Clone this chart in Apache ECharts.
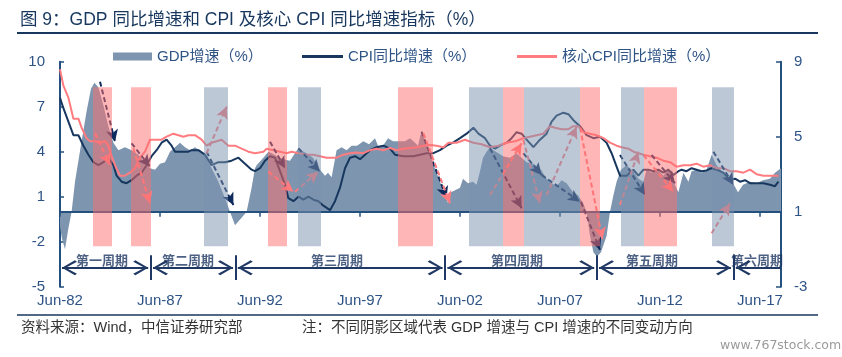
<!DOCTYPE html>
<html><head><meta charset="utf-8">
<script src="https://cdn.jsdelivr.net/npm/echarts@6/dist/echarts.min.js"></script>
<style>html,body{margin:0;padding:0;background:#fff}#c{width:842px;height:357px}</style>
</head><body><div id="c"></div>
<script>
// ---- data (x = decimal year, Jun-82 = 1982.5) ----
const gdpYears = [1982.5,1982.6,1982.75,1982.92,1983.08,1983.25,1983.58,1983.83,1984.05,1984.22,
1984.42,1984.67,1984.92,1985.17,1985.42,1985.75,1986.08,1986.42,1986.67,1987.0,
1987.25,1987.5,1987.75,1988.0,1988.25,1988.5,1988.75,1989.0,1989.25,1989.58,
1989.83,1990.08,1990.42,1990.75,1991.0,1991.25,1991.58,1991.83,1992.08,1992.25,
1992.33,1992.67,1992.92,1993.1,1993.35,1993.65,1994.0,1994.4,1994.83,1995.15,
1995.5,1995.75,1995.9,1996.08,1996.33,1996.58,1996.83,1997.08,1997.35,1997.67,
1997.95,1998.25,1998.4,1998.65,1998.9,1999.15,1999.5,1999.75,2000.0,2000.25,
2000.4,2000.58,2001.0,2001.5,2001.9,2002.05,2002.5,2002.65,2002.9,2003.15,
2003.33,2003.5,2003.65,2003.83,2004.0,2004.17,2004.42,2004.65,2005.0,2005.33,
2005.58,2005.83,2006.17,2006.5,2006.83,2007.08,2007.33,2007.58,2007.83,2008.15,
2008.4,2008.65,2008.83,2009.0,2009.17,2009.35,2009.55,2009.83,2010.0,2010.17,
2010.33,2010.55,2010.83,2011.17,2011.42,2011.67,2011.83,2012.08,2012.33,2012.67,
2012.92,2013.17,2013.42,2013.67,2013.92,2014.08,2014.33,2014.58,2014.83,2015.08,
2015.33,2015.65,2015.9,2016.15,2016.4,2016.65,2017.0,2017.33,2017.65,2018.0,
2018.25,2018.55];
const gdpValues = [-1.0,-1.8,-2.5,-1.1,0.0,2.0,4.7,6.7,8.2,8.6,
8.3,7.1,5.7,4.6,4.1,4.3,4.1,3.8,3.4,2.9,
2.8,3.2,3.3,4.0,4.3,4.6,4.3,4.1,4.3,4.0,
3.6,2.9,2.0,0.9,0.0,-0.9,-0.4,0.0,1.6,2.9,
3.1,3.6,4.0,3.9,3.7,3.5,3.4,4.2,3.9,3.6,
2.8,2.4,2.6,2.3,4.1,4.3,4.1,4.4,4.4,4.7,
4.5,4.9,4.4,4.4,4.9,4.7,4.7,4.7,4.9,4.6,
4.4,5.4,3.8,2.0,0.6,1.3,1.6,2.2,1.9,2.0,
1.8,2.7,3.6,4.0,4.3,4.1,3.9,3.7,3.6,3.9,
3.6,3.3,3.2,2.9,2.2,1.9,1.7,2.1,1.9,1.3,
1.1,0.6,0.0,-1.6,-2.7,-3.0,-2.7,-1.6,0.0,1.1,
2.0,2.8,3.1,2.7,2.2,2.0,2.8,2.6,2.9,2.4,
2.9,2.0,1.3,2.6,2.0,2.7,2.8,2.6,2.8,3.8,
3.1,2.6,2.2,1.9,1.3,1.8,2.0,1.9,2.1,2.2,
2.6,2.9];

const cpiYears = [1982.5,1982.67,1982.92,1983.17,1983.42,1983.67,1983.92,1984.17,1984.42,1984.67,
1984.92,1985.17,1985.33,1985.58,1985.83,1986.08,1986.33,1986.58,1986.83,1987.08,
1987.33,1987.58,1987.83,1988.08,1988.25,1988.58,1988.92,1989.08,1989.42,1989.75,
1990.08,1990.42,1990.75,1991.08,1991.42,1991.75,1992.08,1992.25,1992.5,1992.75,
1993.0,1993.25,1993.5,1993.75,1993.92,1994.17,1994.42,1994.67,1994.92,1995.17,
1995.42,1995.67,1996.0,1996.25,1996.5,1996.75,1997.0,1997.25,1997.5,1997.75,
1998.0,1998.33,1998.67,1999.0,1999.25,1999.67,2000.17,2000.5,2000.83,2001.17,
2001.5,2001.83,2002.15,2002.5,2002.83,2003.17,2003.42,2003.75,2004.0,2004.25,
2004.5,2004.83,2005.08,2005.33,2005.58,2005.83,2006.17,2006.5,2006.83,2007.08,
2007.33,2007.67,2007.92,2008.17,2008.5,2008.83,2009.17,2009.5,2009.83,2010.08,
2010.33,2010.5,2010.83,2011.17,2011.42,2011.67,2011.92,2012.17,2012.42,2012.67,
2012.92,2013.17,2013.42,2013.58,2013.83,2014.08,2014.33,2014.58,2014.83,2015.08,
2015.33,2015.67,2016.0,2016.25,2016.5,2016.75,2017.0,2017.33,2017.67,2018.0,
2018.25,2018.42];
const cpiValues = [7.6,6.9,6.0,5.1,5.1,4.4,3.8,3.3,3.1,3.3,
3.6,3.1,2.4,2.0,1.9,2.1,2.4,2.6,3.1,3.7,
4.1,4.6,4.8,4.4,4.0,4.0,4.0,4.1,4.1,3.8,
3.1,3.3,3.3,3.4,3.6,3.2,2.8,2.7,2.9,3.4,
3.7,3.6,2.7,1.8,0.9,0.7,1.0,0.8,1.0,0.8,
0.7,0.4,0.1,0.7,1.6,2.9,3.6,3.7,3.5,3.8,
4.1,4.3,4.4,4.2,3.8,3.7,3.7,3.8,3.9,3.9,
4.1,4.4,4.6,4.9,5.2,5.6,5.2,4.9,4.4,4.2,
4.4,4.6,4.9,5.3,5.2,4.8,4.3,4.8,5.2,6.0,
6.4,6.6,6.5,6.1,5.7,5.1,4.9,5.0,4.6,3.9,
3.0,2.4,2.4,2.8,2.4,2.8,2.8,2.7,2.8,2.6,
2.8,2.45,2.7,2.8,2.7,2.9,2.8,2.7,2.75,2.9,
2.8,2.6,2.1,2.2,2.0,2.1,1.9,1.9,1.9,1.8,
1.7,2.0];

const coreYears = [1982.5,1982.67,1982.92,1983.17,1983.42,1983.58,1983.83,1984.0,1984.25,1984.5,
1984.75,1984.92,1985.08,1985.25,1985.5,1985.75,1986.0,1986.25,1986.5,1986.75,
1987.0,1987.25,1987.58,1987.83,1988.17,1988.42,1988.67,1988.92,1989.25,1989.58,
1989.83,1990.08,1990.58,1990.92,1991.25,1991.58,1991.92,1992.25,1992.67,1992.83,
1993.17,1993.5,1993.83,1994.08,1994.42,1994.83,1995.17,1995.5,1995.83,1996.33,
1996.67,1997.0,1997.33,1997.67,1998.0,1998.33,1998.67,1999.0,1999.33,1999.67,
2000.0,2000.33,2000.67,2001.0,2001.33,2001.67,2001.92,2002.33,2002.75,2003.17,
2003.58,2004.0,2004.42,2004.83,2005.25,2005.67,2006.0,2006.33,2006.67,2007.0,
2007.25,2007.58,2007.92,2008.17,2008.42,2008.67,2009.0,2009.33,2009.67,2010.0,
2010.33,2010.58,2010.92,2011.17,2011.42,2011.67,2012.0,2012.33,2012.67,2013.0,
2013.33,2013.67,2014.0,2014.33,2014.67,2015.0,2015.33,2015.67,2016.0,2016.33,
2016.67,2017.0,2017.33,2017.67,2018.0,2018.42];
const coreValues = [9.5,8.4,7.6,6.2,6.2,5.6,4.9,4.7,4.7,4.6,
4.7,4.4,3.7,3.1,2.4,2.4,2.6,2.9,3.6,4.0,
4.8,4.8,4.8,5.0,5.2,5.1,5.0,5.1,5.1,4.8,
4.4,4.6,4.8,4.4,4.4,4.2,4.0,3.9,4.0,4.2,
4.1,4.0,3.9,4.0,3.9,3.8,3.8,3.7,3.6,3.6,
3.8,3.9,3.95,3.9,4.1,4.2,4.1,4.25,4.1,4.2,
4.25,4.3,4.4,4.45,4.4,4.3,4.6,4.6,4.8,4.6,
4.5,4.3,4.4,4.6,4.7,4.9,5.0,5.1,5.2,5.7,
5.6,5.5,5.5,5.7,5.7,5.3,5.2,5.1,4.9,4.6,
4.4,4.3,4.2,4.0,3.9,3.8,3.7,3.6,3.4,3.3,
3.0,3.1,3.1,3.2,3.0,3.1,2.9,2.9,2.7,2.7,
2.6,2.8,2.5,2.4,2.4,2.4];

// shaded periods (p = pink, g = gray)
const bandStart = [1984.15,1986.05,1989.7,1992.9,1994.4,1999.4,2002.95,2004.65,2005.7,2008.5,2010.55,2011.7,2015.1];
const bandEnd   = [1985.1,1987.05,1990.9,1993.85,1995.55,2001.15,2004.65,2005.7,2008.5,2009.5,2011.7,2013.35,2016.2];
const bandKind  = ['p','p','g','p','g','p','g','p','g','p','g','p','g'];
const bandRange = [8.3, -2.3];

// dashed direction arrows (n = navy/CPI, p = pink)
const arrowFrom = [[1984.5,8.67],[1984.25,5.23],[1986.08,4.56],[1986.17,4.23],[1989.83,3.89],[1989.83,4.0],
[1993.0,4.67],[1992.92,2.67],[1994.25,1.33],[1994.42,4.23],[2000.58,5.33],[2000.67,5.23],[2004.0,1.11],
[2004.0,4.23],[2005.67,3.89],[2005.67,4.78],[2006.83,1.11],[2006.58,2.45],[2008.5,5.6],[2008.55,0.65],
[2010.5,0.45],[2010.5,3.78],[2012.08,3.78],[2011.67,3.78],[2015.17,4.0],[2015.08,-1.44]];
const arrowTo = [[1985.25,4.67],[1985.0,3.11],[1987.0,3.0],[1987.0,0.56],[1990.83,7.0],[1991.17,0.45],
[1993.75,2.89],[1994.17,1.33],[1995.42,2.67],[1995.5,2.67],[2001.83,0.89],[2002.0,0.56],[2005.58,4.56],
[2005.58,0.23],[2006.58,2.45],[2006.5,0.56],[2008.33,5.67],[2008.5,0.67],[2009.62,-1.82],[2009.5,-2.55],
[2011.42,4.0],[2011.75,1.11],[2013.25,1.89],[2013.17,1.33],[2016.17,1.78],[2016.0,0.56]];
const arrowKind = ['n','p','n','p','p','n','n','p','p','n','n','p','p','n','n','p','p','n','p','n','p','n','n','p','n','p'];

// economic cycles
const cycleNames = ['第一周期','第二周期','第三周期','第四周期','第五周期','第六周期'];
const cycleBounds = [1982.48,1987.03,1991.27,2001.75,2009.33,2016.17,2018.55];
const cycleLabelYears = [1984.6,1988.9,1996.35,2005.35,2012.1,2017.35];
const cycleRow = {line: -3.73, label: -3.22, sepTop: -2.9, sepBottom: -4.55, gap: 0.12};

const xTickLabels = ['Jun-82','Jun-87','Jun-92','Jun-97','Jun-02','Jun-07','Jun-12','Jun-17'];

// ---- chart ----
const FONT = "'Liberation Sans','Noto Sans CJK SC',sans-serif";
const NAVY = '#17375E', AXIS = '#24507F', LBL = '#2E5486';
const PINK_BAND = 'rgba(255,110,110,0.5)', GRAY_BAND = 'rgba(121,145,173,0.5)';
const XMIN = 1982.5, XMAX = 2018.55;
// open chevron whose apex sits at the centre of its box (tiny speck at top pads the box)
const CHEV = 'path://M10,0 L10.02,0 L10,0.02 Z M0,26 L10,14 L20,26 L18,28 L10,17.5 L2,28 Z';

function pairs(xs, ys){ return xs.map((x,i)=>[x, ys[i]]); }
function arrowsOf(kind){
  const out = [];
  arrowKind.forEach((k,i)=>{ if(k===kind) out.push([{coord:arrowFrom[i]},{coord:arrowTo[i]}]); });
  return out;
}
const bandData = bandStart.map((s,i)=>[
  {xAxis:s, yAxis:bandRange[0], itemStyle:{color: bandKind[i]==='p'?PINK_BAND:GRAY_BAND}},
  {xAxis:bandEnd[i], yAxis:bandRange[1]}
]);
const segs = cycleNames.map((n,i)=>[
  {coord:[cycleBounds[i] + cycleRow.gap, cycleRow.line]},
  {coord:[i===cycleNames.length-1 ? cycleBounds[i+1] : cycleBounds[i+1] - cycleRow.gap, cycleRow.line]}
]);
const seps = cycleBounds.slice(1,-1).map(b=>[{coord:[b,cycleRow.sepTop]},{coord:[b,cycleRow.sepBottom]}]);

const chart = echarts.init(document.getElementById('c'), null, {renderer:'canvas'});
chart.setOption({
  animation:false,
  backgroundColor:'#fff',
  textStyle:{fontFamily:FONT},
  title:{text:'图 9：GDP 同比增速和 CPI 及核心 CPI 同比增速指标（%）', left:20, top:11, padding:0,
    textStyle:{fontSize:17.5, fontWeight:'normal', color:NAVY, fontFamily:FONT}},
  legend:[
    {data:[{name:'GDP增速（%）', icon:'rect'}], left:113, top:49, padding:0, itemWidth:39, itemHeight:8,
      textStyle:{fontSize:15, color:LBL, fontFamily:FONT}},
    {data:[{name:'CPI同比增速（%）', icon:'rect'}], left:302, top:49, padding:0, itemWidth:41, itemHeight:3,
      textStyle:{fontSize:15, color:LBL, fontFamily:FONT}},
    {data:[{name:'核心CPI同比增速（%）', icon:'rect'}], left:517, top:49, padding:0, itemWidth:40, itemHeight:3,
      textStyle:{fontSize:15, color:LBL, fontFamily:FONT}}
  ],
  grid:{left:60, right:61, top:61.7, bottom:70.3, containLabel:false, outerBoundsMode:'none'},
  xAxis:[
    {type:'value', min:XMIN, max:XMAX, interval:5, position:'bottom',
      axisLine:{show:false, onZero:false}, axisTick:{show:false}, splitLine:{show:false},
      axisLabel:{color:LBL, fontSize:15, margin:7, fontFamily:FONT, hideOverlap:false, showMaxLabel:true,
        formatter:(v)=>{ const k=(v-XMIN)/5; const r=Math.round(k); return Math.abs(k-r)<1e-6 ? (xTickLabels[r]||'') : ''; }}},
    {type:'value', min:XMIN, max:XMAX, interval:5, position:'bottom', z:3,
      axisLine:{show:true, onZero:true, lineStyle:{color:AXIS, width:2}},
      axisTick:{show:true, inside:false, length:5, lineStyle:{color:AXIS, width:1.5}},
      axisLabel:{show:false}, splitLine:{show:false}}
  ],
  yAxis:[
    {type:'value', position:'left', min:-5, max:10, interval:3,
      axisLine:{show:true, onZero:false, lineStyle:{color:AXIS, width:2}},
      axisTick:{show:true, inside:true, length:4, lineStyle:{color:AXIS, width:1.5}},
      axisLabel:{color:LBL, fontSize:15, margin:15, fontFamily:FONT}, splitLine:{show:false}},
    {type:'value', position:'right', min:-3, max:9, interval:4,
      axisLine:{show:true, onZero:false, lineStyle:{color:AXIS, width:2}},
      axisTick:{show:true, inside:true, length:5, lineStyle:{color:AXIS, width:1.5}},
      axisLabel:{color:LBL, fontSize:15, margin:13, fontFamily:FONT}, splitLine:{show:false}}
  ],
  series:[
    {name:'GDP增速（%）', type:'line', z:2, data:pairs(gdpYears,gdpValues), symbol:'none', silent:true,
      itemStyle:{color:'#7D95AE'}, lineStyle:{width:0, color:'#7D95AE'}, areaStyle:{color:'#7D95AE', opacity:1}},
    {name:'CPI同比增速（%）', type:'line', z:3, data:pairs(cpiYears,cpiValues), symbol:'none', silent:true,
      itemStyle:{color:NAVY}, lineStyle:{width:2, color:NAVY}},
    {name:'核心CPI同比增速（%）', type:'line', z:3, data:pairs(coreYears,coreValues), symbol:'none', silent:true,
      itemStyle:{color:'#FF7C80'}, lineStyle:{width:2, color:'#FF7C80'}},
    {type:'line', data:[], z:4, silent:true,
      markLine:{z:4, silent:true, symbol:['none','arrow'], symbolSize:[9,12], label:{show:false}, animation:false,
        lineStyle:{color:'#0F2A5C', width:2, type:[5,3]}, data:arrowsOf('n')}},
    {type:'line', data:[], z:4, silent:true,
      markLine:{z:4, silent:true, symbol:['none','arrow'], symbolSize:[9,12], label:{show:false}, animation:false,
        lineStyle:{color:'#FF7C80', width:2, type:[5,3]}, data:arrowsOf('p')}},
    {type:'line', data:[], z:6, silent:true,
      markArea:{z:6, silent:true, label:{show:false}, data:bandData}},
    {type:'line', data:[], z:7, silent:true,
      markLine:{z:7, silent:true, symbol:[CHEV,CHEV], symbolSize:[15,30], label:{show:false}, animation:false,
        lineStyle:{color:'#1F3864', width:2, type:'solid'}, data:segs.slice(0,5)}},
    {type:'line', data:[], z:7, silent:true,
      markLine:{z:7, silent:true, symbol:[CHEV,'none'], symbolSize:[15,30], label:{show:false}, animation:false,
        lineStyle:{color:'#1F3864', width:2, type:'solid'}, data:segs.slice(5)}},
    {type:'line', data:[], z:7, silent:true,
      markLine:{z:7, silent:true, symbol:['none','none'], label:{show:false}, animation:false,
        lineStyle:{color:'#1F3864', width:2, type:'solid'}, data:seps}},
    {type:'scatter', z:8, silent:true, symbol:'circle', symbolSize:0,
      data:cycleLabelYears.map((x,i)=>({name:cycleNames[i], value:[x,cycleRow.label]})),
      label:{show:true, position:'inside', formatter:'{b}', color:'#1F3864', fontSize:13, fontWeight:'bold',
        fontFamily:"'Noto Sans CJK SC',sans-serif"}}
  ],
  graphic:[
    {type:'line', shape:{x1:17,y1:33,x2:818,y2:33}, style:{stroke:NAVY, lineWidth:2}, silent:true},
    {type:'line', shape:{x1:17,y1:315,x2:818,y2:315}, style:{stroke:NAVY, lineWidth:1.5}, silent:true},
    {type:'text', left:21, top:321, silent:true,
      style:{text:'资料来源：Wind，中信证券研究部', font:"14.5px 'Liberation Sans','Noto Sans CJK SC',sans-serif", fill:'#333333'}},
    {type:'text', left:302, top:321, silent:true,
      style:{text:'注：不同阴影区域代表 GDP 增速与 CPI 增速的不同变动方向', font:"14.5px 'Liberation Sans','Noto Sans CJK SC',sans-serif", fill:'#333333'}},
    {type:'text', left:720, top:339, silent:true,
      style:{text:'www.767stock.com', font:"12.5px 'DejaVu Sans',sans-serif", fill:'#9a9a9a'}}
  ]
});
</script></body></html>
